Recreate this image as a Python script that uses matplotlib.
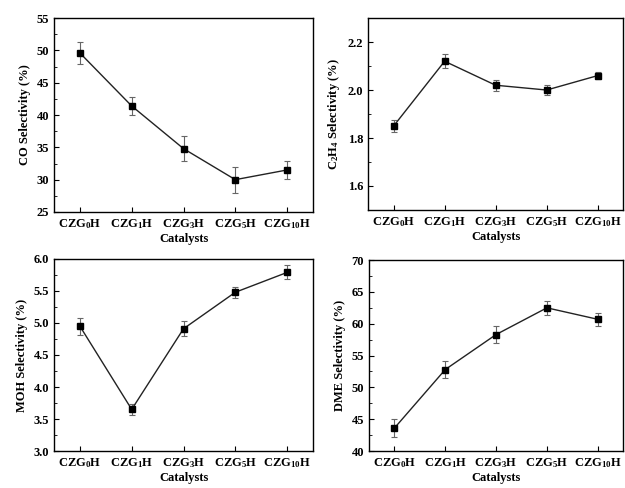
import numpy as np
import matplotlib
matplotlib.use('Agg')
import matplotlib.pyplot as plt
from matplotlib.ticker import AutoMinorLocator, MultipleLocator

plt.rcParams['font.family'] = ['Liberation Serif', 'DejaVu Serif']
plt.rcParams['font.weight'] = 'bold'
plt.rcParams['mathtext.fontset'] = 'custom'
plt.rcParams['mathtext.rm'] = 'Liberation Serif:bold'
plt.rcParams['mathtext.bf'] = 'Liberation Serif:bold'
plt.rcParams['mathtext.it'] = 'Liberation Serif:bold'

catalysts = ['CZG$_0$H', 'CZG$_1$H', 'CZG$_3$H', 'CZG$_5$H', 'CZG$_{10}$H']

co = [49.6, 41.4, 34.8, 30.0, 31.5]
co_err = [1.7, 1.45, 1.9, 2.0, 1.45]

c2h4 = [1.85, 2.12, 2.02, 2.00, 2.06]
c2h4_err = [0.024, 0.03, 0.022, 0.02, 0.015]

moh = [4.95, 3.65, 4.91, 5.48, 5.79]
moh_err = [0.13, 0.09, 0.12, 0.09, 0.11]

dme = [43.6, 52.8, 58.3, 62.5, 60.7]
dme_err = [1.4, 1.3, 1.3, 1.1, 1.0]

panels = [
    # values, errors, ylabel, ylim, major step, fmt, axes rect
    (co, co_err, 'CO Selectivity (%)', (25, 55), 5, '%d', [0.0864, 0.5656, 0.4144, 0.3974]),
    (c2h4, c2h4_err, 'C$_2$H$_4$ Selectivity (%)', (1.5, 2.3), 0.2, '%.1f', [0.589, 0.5697, 0.408, 0.3933]),
    (moh, moh_err, 'MOH Selectivity (%)', (3.0, 6.0), 0.5, '%.1f', [0.0864, 0.0758, 0.4144, 0.3935]),
    (dme, dme_err, 'DME Selectivity (%)', (40, 70), 5, '%d', [0.5904, 0.0758, 0.4066, 0.3912]),
]

fig = plt.figure(figsize=(6.25, 4.88), dpi=100)
x = np.arange(len(catalysts))

for vals, errs, ylabel, ylim, step, fmt, rect in panels:
    ax = fig.add_axes(rect)
    ax.errorbar(x, vals, yerr=errs, fmt='none', ecolor='#666666', elinewidth=0.8,
                capsize=2.5, capthick=0.8, zorder=2)
    ax.plot(x, vals, color='#222222', lw=1.0, marker='s', markersize=4,
            markerfacecolor='black', markeredgecolor='black', zorder=3)
    ax.set_xlim(-0.5, 4.5)
    ax.set_ylim(*ylim)
    ax.set_xticks(x)
    ax.set_xticklabels(catalysts)
    ax.yaxis.set_major_locator(MultipleLocator(step))
    ax.yaxis.set_major_formatter(matplotlib.ticker.FormatStrFormatter(fmt))
    ax.yaxis.set_minor_locator(AutoMinorLocator(2))
    ax.tick_params(axis='both', which='both', direction='in', labelsize=9)
    ax.tick_params(axis='both', which='major', length=3.5, width=0.8)
    ax.tick_params(axis='y', which='minor', length=2, width=0.6)
    ax.tick_params(axis='x', pad=4)
    for s in ax.spines.values():
        s.set_linewidth(1.0)
    ax.set_xlabel('Catalysts', fontsize=9, fontweight='bold', labelpad=1)
    ax.set_ylabel(ylabel, fontsize=9, fontweight='bold')

fig.savefig('out.png', dpi=100)
